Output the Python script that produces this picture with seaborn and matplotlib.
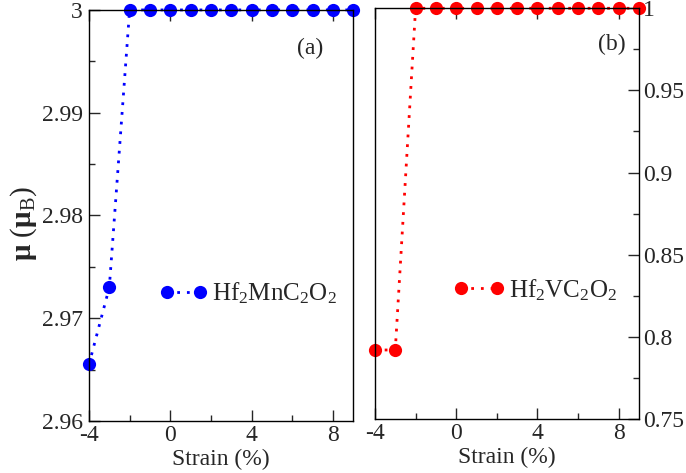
import matplotlib
matplotlib.use("Agg")
import matplotlib.pyplot as plt
import seaborn as sns
from matplotlib.ticker import MultipleLocator

strain = [-4, -3, -2, -1, 0, 1, 2, 3, 4, 5, 6, 7, 8, 9]
mu_mn = [2.9655, 2.973, 3.0, 3.0, 3.0, 3.0, 3.0, 3.0, 3.0, 3.0, 3.0, 3.0, 3.0, 3.0]
mu_v = [0.792, 0.792, 1.0, 1.0, 1.0, 1.0, 1.0, 1.0, 1.0, 1.0, 1.0, 1.0, 1.0, 1.0]
label_mn = r"Hf$_2$MnC$_2$O$_2$"
label_v = r"Hf$_2$VC$_2$O$_2$"
xticks = [-4, 0, 4, 8]

sns.set_style("ticks")
plt.rcParams["font.family"] = ["Liberation Serif", "DejaVu Serif"]
plt.rcParams["mathtext.fontset"] = "custom"
plt.rcParams["mathtext.rm"] = "Liberation Serif"
plt.rcParams["mathtext.it"] = "Liberation Serif:italic"
plt.rcParams["mathtext.bf"] = "Liberation Serif:bold"
plt.rcParams["axes.unicode_minus"] = False

fig = plt.figure(figsize=(6.86, 4.73), dpi=100)
axa = fig.add_axes([0.1297, 0.110, 0.3853, 0.869])
axb = fig.add_axes([0.5466, 0.1142, 0.3849, 0.8683])

for ax, y, col, lab in [(axa, mu_mn, "#0000ff", label_mn), (axb, mu_v, "#ff0000", label_v)]:
    sns.lineplot(x=strain, y=y, ax=ax, color=col, linestyle=(0, (1, 2.5)), linewidth=2,
                 marker="o", markersize=9.5, markeredgewidth=0, clip_on=False,
                 label=lab)
    ax.set_xlim(-4, 9)
    ax.set_xticks(xticks)
    ax.xaxis.set_minor_locator(MultipleLocator(2))
    ax.set_xlabel("Strain (%)", fontsize=17, labelpad=2)
    for s in ax.spines.values():
        s.set_linewidth(1.0)
        s.set_color("black")
        s.set_visible(True)
    ax.tick_params(axis="x", which="major", direction="in", length=8, width=1,
                   top=True, bottom=True, labelsize=17, pad=3)
    ax.tick_params(axis="x", which="minor", direction="in", length=4.5, width=1,
                   top=False, bottom=True)

axa.set_ylim(2.96, 3.0)
axa.set_yticks([2.96, 2.97, 2.98, 2.99, 3.0])
axa.set_yticklabels(["2.96", "2.97", "2.98", "2.99", "3"])
axa.yaxis.set_minor_locator(MultipleLocator(0.005))
axa.tick_params(axis="y", which="major", direction="in", length=8, width=1,
                left=True, right=False, labelsize=17, pad=4.5)
axa.tick_params(axis="y", which="minor", direction="in", length=4.5, width=1,
                left=True, right=False)
axa.set_ylabel(r"$\mathbf{\mu}$ ($\mathbf{\mu}_{\rm B}$)", fontsize=21)
axa.yaxis.set_label_coords(-0.19, 0.48)

axb.set_ylim(0.75, 1.0)
axb.set_yticks([0.75, 0.8, 0.85, 0.9, 0.95, 1.0])
axb.set_yticklabels(["0.75", "0.8", "0.85", "0.9", "0.95", "1"])
axb.yaxis.set_minor_locator(MultipleLocator(0.025))
axb.yaxis.tick_right()
axb.tick_params(axis="y", which="major", direction="in", length=8, width=1,
                left=False, right=True, labelleft=False, labelright=True,
                labelsize=17, pad=3)
axb.tick_params(axis="y", which="minor", direction="in", length=4.5, width=1,
                left=False, right=True)
axb.set_ylabel("")

axa.legend(loc="center left", bbox_to_anchor=(0.266, 0.310), frameon=False,
           numpoints=2, handlelength=1.92, handletextpad=0.2, borderpad=0,
           borderaxespad=0, fontsize=18)
axb.legend(loc="center left", bbox_to_anchor=(0.296, 0.314), frameon=False,
           numpoints=2, handlelength=2.04, handletextpad=0.2, borderpad=0,
           borderaxespad=0, fontsize=18)

axa.text(0.837, 0.907, "(a)", transform=axa.transAxes, fontsize=17,
         ha="center", va="center")
axb.text(0.898, 0.911, "(b)", transform=axb.transAxes, fontsize=17,
         ha="center", va="center")

fig.savefig("out.png", dpi=100)
